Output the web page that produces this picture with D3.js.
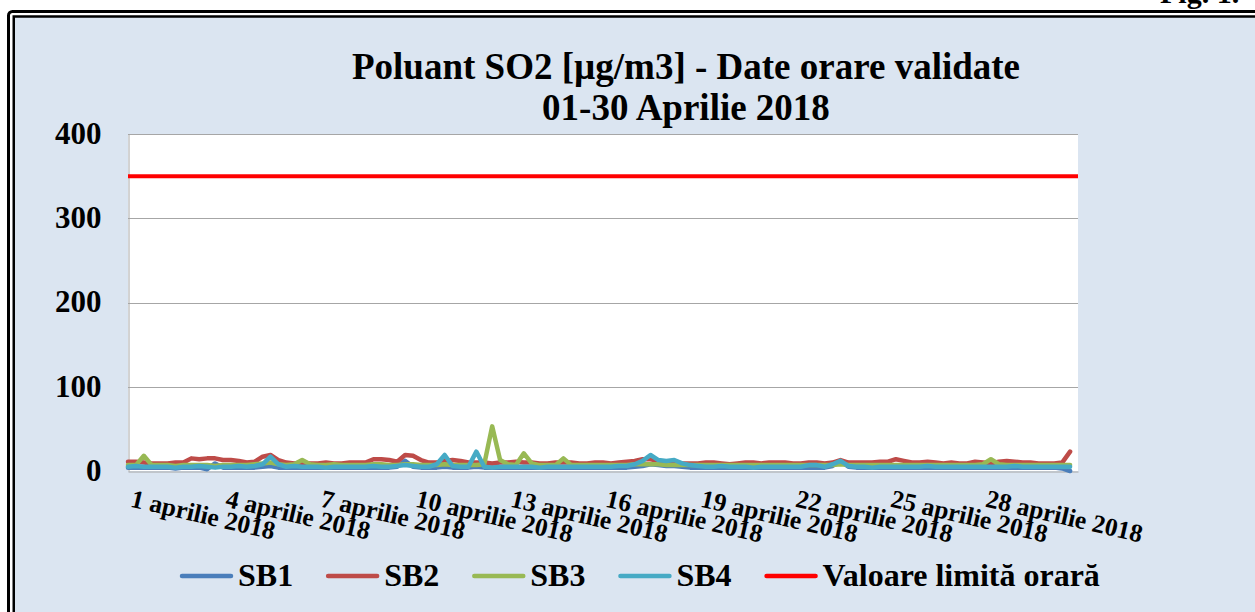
<!DOCTYPE html>
<html>
<head>
<meta charset="utf-8">
<script src="https://cdn.jsdelivr.net/npm/d3@7"></script>
<style>
  body { margin: 0; background: #fff; }
  svg { display: block; }
  text {
    font-family: 'Liberation Serif', 'Times New Roman', serif;
    font-weight: bold;
    fill: #000;
  }
</style>
</head>
<body>
<svg id="chart" width="1255" height="612"></svg>
<script>
// hourly SO2 readings at one value every 6 hours (00, 06, 12, 18)
const hoursPerSample = 6;
const seriesNames = ['SB1', 'SB2', 'SB3', 'SB4'];
const limitName = 'Valoare limită orară';
const limitValue = 350;

const sb1 = [
  4, 4, 4, 4, 4, 4, 3, 4, 4, 4, 2, 9, 4, 4, 4, 4, 4, 5, 6, 4,
  4, 4, 4, 4, 4, 4, 4, 4, 4, 4, 4, 4, 4, 4, 5, 12, 5, 4, 4, 4,
  5, 4, 4, 4, 5, 4, 4, 4, 4, 4, 4, 4, 4, 4, 4, 4, 4, 4, 4, 4,
  4, 4, 4, 4, 5, 6, 8, 7, 6, 6, 5, 4, 4, 4, 4, 4, 4, 4, 4, 4,
  4, 4, 4, 4, 4, 4, 4, 4, 4, 6, 12, 5, 4, 4, 4, 4, 4, 4, 4, 4,
  4, 4, 4, 4, 4, 4, 4, 4, 4, 4, 4, 4, 4, 4, 4, 4, 4, 4, 3, 0,
];
const sb2 = [
  11, 11, 10, 9, 9, 9, 10, 10, 15, 14, 15, 15, 13, 13, 12, 10, 11, 17, 19, 13,
  10, 9, 10, 9, 9, 10, 9, 9, 10, 10, 10, 14, 14, 13, 11, 19, 18, 13, 10, 10,
  12, 13, 12, 10, 10, 10, 9, 10, 10, 11, 10, 10, 9, 9, 10, 10, 10, 9, 9, 10,
  10, 9, 10, 11, 12, 14, 14, 12, 10, 10, 9, 9, 9, 10, 10, 9, 8, 9, 10, 10,
  9, 10, 10, 10, 9, 9, 10, 10, 9, 10, 13, 10, 10, 10, 10, 11, 11, 14, 12, 10,
  10, 11, 10, 9, 10, 9, 9, 11, 10, 9, 11, 12, 11, 10, 10, 9, 9, 9, 10, 23,
];
const sb3 = [
  7, 7, 18, 7, 7, 7, 6, 7, 7, 7, 7, 6, 7, 7, 7, 7, 8, 9, 10, 8,
  7, 8, 13, 8, 7, 7, 8, 7, 7, 7, 7, 8, 8, 7, 7, 8, 8, 7, 7, 7,
  8, 7, 7, 7, 7, 8, 53, 13, 8, 7, 21, 9, 7, 7, 7, 15, 7, 7, 7, 7,
  7, 7, 7, 7, 8, 8, 8, 8, 7, 7, 7, 7, 7, 7, 7, 7, 7, 7, 7, 7,
  7, 7, 7, 7, 7, 7, 7, 7, 7, 7, 8, 7, 7, 7, 7, 7, 7, 7, 7, 7,
  7, 7, 7, 7, 7, 7, 7, 7, 8, 14, 8, 7, 7, 7, 7, 7, 7, 7, 7, 7,
];
const sb4 = [
  5, 6, 5, 5, 5, 5, 4, 5, 5, 6, 5, 4, 5, 5, 6, 5, 6, 8, 17, 8,
  5, 6, 5, 5, 5, 4, 5, 5, 5, 5, 5, 6, 5, 5, 6, 7, 6, 5, 5, 8,
  19, 6, 5, 5, 23, 5, 4, 5, 5, 5, 5, 5, 4, 5, 5, 5, 5, 5, 5, 5,
  5, 5, 6, 6, 8, 12, 19, 13, 12, 13, 9, 7, 6, 5, 5, 6, 5, 5, 5, 4,
  5, 5, 5, 5, 5, 5, 7, 7, 5, 8, 12, 6, 5, 5, 4, 5, 5, 5, 5, 5,
  5, 6, 5, 5, 5, 5, 5, 5, 5, 5, 5, 5, 6, 5, 5, 5, 5, 5, 5, 5,
];

const tickDays = [1, 4, 7, 10, 13, 16, 19, 22, 25, 28];
const tickLabels = [
  '1 aprilie 2018', '4 aprilie 2018', '7 aprilie 2018', '10 aprilie 2018',
  '13 aprilie 2018', '16 aprilie 2018', '19 aprilie 2018', '22 aprilie 2018',
  '25 aprilie 2018', '28 aprilie 2018',
];
const yTicks = [0, 100, 200, 300, 400];
const titleLines = ['Poluant SO2 [µg/m3] - Date orare validate', '01-30 Aprilie 2018'];

const colors = ['#4a7ebb', '#be4b48', '#98b954', '#46aac5'];
const limitColor = '#ff0000';

const svg = d3.select('#chart');
const plotLeft = 128;
const plotRight = 1078;
const plotTop = 134;
const plotBottom = 471;

// chart frame (double black border, light blue fill)
svg.append('rect')
  .attr('x', 8.5).attr('y', 11.5)
  .attr('width', 1300).attr('height', 700)
  .attr('rx', 4)
  .attr('fill', '#fff')
  .attr('stroke', '#000')
  .attr('stroke-width', 3);
svg.append('rect')
  .attr('x', 13.75).attr('y', 16.5)
  .attr('width', 1300).attr('height', 700)
  .attr('fill', '#dbe5f1')
  .attr('stroke', '#000')
  .attr('stroke-width', 2.5);

// figure caption, cut off at the top of the page like in the scan
svg.append('text')
  .attr('x', 1160).attr('y', 3)
  .attr('font-size', 30)
  .text('Fig. 1.');

// title
svg.append('g')
  .selectAll('text')
  .data(titleLines)
  .join('text')
  .attr('x', 686)
  .attr('y', (d, i) => 79 + i * 41)
  .attr('text-anchor', 'middle')
  .attr('font-size', 37)
  .text(d => d);

const x = d3.scaleLinear()
  .domain([0, 30 * 24])
  .range([plotLeft, plotRight]);
const y = d3.scaleLinear()
  .domain([0, 400])
  .range([plotBottom, plotTop]);

// plot area
svg.append('rect')
  .attr('x', plotLeft).attr('y', plotTop)
  .attr('width', plotRight - plotLeft)
  .attr('height', plotBottom - plotTop)
  .attr('fill', '#fff');

svg.append('g')
  .selectAll('line')
  .data(yTicks.filter(d => d > 0))
  .join('line')
  .attr('x1', plotLeft).attr('x2', plotRight)
  .attr('y1', d => Math.round(y(d)) + 0.5)
  .attr('y2', d => Math.round(y(d)) + 0.5)
  .attr('stroke', '#a6a6a6');

// y axis
const yAxis = svg.append('g')
  .attr('transform', `translate(${plotLeft + 0.5}, 0)`)
  .call(d3.axisLeft(y).tickValues(yTicks).tickSize(0).tickPadding(27));
yAxis.select('.domain').attr('stroke', '#a6a6a6');
yAxis.selectAll('text')
  .attr('font-size', 31)
  .attr('font-family', null)
  .attr('dy', '0.3em');

// x axis with slanted date labels
const xAxis = svg.append('g')
  .attr('transform', `translate(0, ${plotBottom + 0.5})`)
  .call(d3.axisBottom(x)
    .tickValues(tickDays.map(d => (d - 1) * 24))
    .tickFormat((d, i) => tickLabels[i])
    .tickSize(0));
xAxis.select('.domain').attr('stroke', '#a6a6a6');
xAxis.selectAll('text')
  .attr('font-size', 25.5)
  .attr('font-family', null)
  .attr('text-anchor', 'start')
  .attr('x', 0).attr('y', 0).attr('dy', 0)
  .attr('transform', 'translate(1, 35) rotate(13)');

// data lines
const line = d3.line()
  .x((d, i) => x(i * hoursPerSample))
  .y(d => y(d));

const series = [sb1, sb2, sb3, sb4];
svg.append('g')
  .selectAll('path')
  .data(series)
  .join('path')
  .attr('d', d => line(d))
  .attr('fill', 'none')
  .attr('stroke', (d, i) => colors[i])
  .attr('stroke-width', 4.5)
  .attr('stroke-linejoin', 'round')
  .attr('stroke-linecap', 'round');

svg.append('path')
  .attr('d', d3.line()([[x(0), y(limitValue)], [x(30 * 24), y(limitValue)]]))
  .attr('stroke', limitColor)
  .attr('stroke-width', 4);

// legend
const legendItems = seriesNames.map((name, i) => ({ name, color: colors[i] }))
  .concat([{ name: limitName, color: limitColor }]);
const legend = svg.append('g').attr('transform', 'translate(0, 576)');
let lx = 180;
legendItems.forEach((item) => {
  legend.append('line')
    .attr('x1', lx + 2).attr('x2', lx + 51)
    .attr('stroke', item.color)
    .attr('stroke-width', 4.5)
    .attr('stroke-linecap', 'round');
  const label = legend.append('text')
    .attr('x', lx + 58)
    .attr('y', 10)
    .attr('font-size', 32)
    .text(item.name);
  lx = lx + 58 + label.node().getComputedTextLength() + 33;
});
</script>
</body>
</html>
